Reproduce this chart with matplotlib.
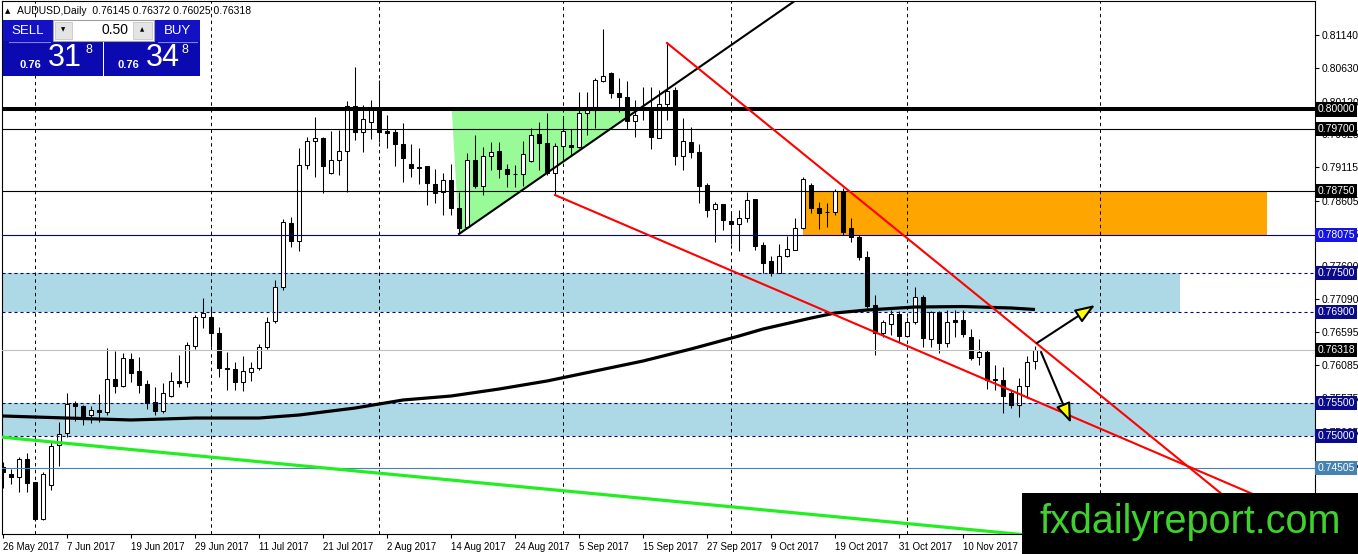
import matplotlib
matplotlib.use("Agg")
import matplotlib.pyplot as plt
import matplotlib.patches as mpatches
import matplotlib.transforms as mtransforms

# ---------------- data ----------------
DATE_LABELS = ["26 May 2017", "7 Jun 2017", "19 Jun 2017", "29 Jun 2017", "11 Jul 2017",
               "21 Jul 2017", "2 Aug 2017", "14 Aug 2017", "24 Aug 2017", "5 Sep 2017",
               "15 Sep 2017", "27 Sep 2017", "9 Oct 2017", "19 Oct 2017", "31 Oct 2017",
               "10 Nov 2017"]
DATE_LABEL_BARS = [0, 8, 16, 24, 32, 40, 48, 56, 64, 72, 80, 88, 96, 104, 112, 120]
MONTH_START_BARS = [4, 26, 47, 70, 91, 113, 137.1]

OPEN = [
    0.74525, 0.74418, 0.74372, 0.74647, 0.74295, 0.73729, 0.74249, 0.74862, 0.75046, 0.75505,
    0.75459, 0.75321, 0.75398, 0.75367, 0.75872, 0.75765, 0.76179, 0.75995, 0.75796, 0.75520,
    0.75382, 0.75612, 0.75842, 0.75826, 0.76378, 0.76822, 0.76822, 0.76577, 0.76041, 0.76025,
    0.75826, 0.75979, 0.76041, 0.76363, 0.76760, 0.77281, 0.78261, 0.77986, 0.79149, 0.79517,
    0.79563, 0.79027, 0.79226, 0.79364, 0.80052, 0.79655, 0.79808, 0.79992, 0.79670, 0.79655,
    0.79471, 0.79165, 0.79119, 0.79134, 0.78858, 0.78736, 0.78919, 0.78491, 0.78200, 0.79226,
    0.78828, 0.79287, 0.79364, 0.79088, 0.79012, 0.79012, 0.79210, 0.79624, 0.79486, 0.79027,
    0.79440, 0.79456, 0.79425, 0.79946, 0.79992, 0.80436, 0.80558, 0.80252, 0.80191, 0.79823,
    0.80037, 0.79976, 0.79563, 0.80083, 0.80298, 0.79287, 0.79502, 0.79348, 0.78843, 0.78476,
    0.78552, 0.78292, 0.78246, 0.78338, 0.78629, 0.77924, 0.77679, 0.77496, 0.77755, 0.77848,
    0.78185, 0.78843, 0.78491, 0.78430, 0.78430, 0.78751, 0.78185, 0.78047, 0.77740, 0.77005,
    0.76577, 0.76715, 0.76868, 0.76531, 0.76745, 0.77128, 0.76485, 0.76898, 0.76424, 0.76776,
    0.76776, 0.76516, 0.76209, 0.76286, 0.75872, 0.75857, 0.75658, 0.75474, 0.75765, 0.76145,
]
HIGH = [
    0.74601, 0.74494, 0.74678, 0.74739, 0.74295, 0.74448, 0.74923, 0.75214, 0.75658, 0.75536,
    0.75474, 0.75459, 0.75643, 0.76347, 0.76301, 0.76271, 0.76271, 0.76209, 0.75857, 0.75750,
    0.75811, 0.75979, 0.76240, 0.76439, 0.76852, 0.77113, 0.76960, 0.76669, 0.76286, 0.76133,
    0.76225, 0.76133, 0.76408, 0.76822, 0.77388, 0.78322, 0.78353, 0.79410, 0.79578, 0.79884,
    0.79578, 0.79670, 0.79685, 0.80129, 0.80650, 0.80068, 0.80145, 0.80451, 0.79915, 0.79701,
    0.79793, 0.79471, 0.79410, 0.79134, 0.79088, 0.79027, 0.79165, 0.78736, 0.79333, 0.79609,
    0.79425, 0.79502, 0.79502, 0.79165, 0.79149, 0.79517, 0.79716, 0.79808, 0.79946, 0.79486,
    0.79884, 0.79701, 0.80267, 0.80267, 0.80482, 0.81232, 0.80574, 0.80482, 0.80436, 0.80145,
    0.80344, 0.80344, 0.80298, 0.81018, 0.80344, 0.79869, 0.79731, 0.79471, 0.78874, 0.78583,
    0.78552, 0.78445, 0.78460, 0.78736, 0.78629, 0.77970, 0.77755, 0.77940, 0.78062, 0.78338,
    0.78966, 0.78874, 0.78583, 0.78567, 0.78782, 0.78797, 0.78338, 0.78077, 0.77832, 0.77159,
    0.76776, 0.76929, 0.76914, 0.76822, 0.77281, 0.77159, 0.76914, 0.76914, 0.76929, 0.76929,
    0.76929, 0.76638, 0.76485, 0.76317, 0.76087, 0.76056, 0.75704, 0.75888, 0.76225, 0.76372,
]
LOW = [
    0.74203, 0.74265, 0.74142, 0.74142, 0.73698, 0.73714, 0.74173, 0.74540, 0.74984, 0.75229,
    0.75168, 0.75199, 0.75214, 0.75321, 0.75658, 0.75750, 0.75826, 0.75658, 0.75413, 0.75321,
    0.75352, 0.75597, 0.75750, 0.75750, 0.76332, 0.76653, 0.76363, 0.75903, 0.75704, 0.75704,
    0.75689, 0.75842, 0.76010, 0.76332, 0.76730, 0.77235, 0.77894, 0.77832, 0.79088, 0.78966,
    0.78720, 0.79012, 0.78996, 0.78736, 0.79532, 0.79348, 0.79547, 0.79502, 0.79410, 0.79134,
    0.78889, 0.78966, 0.78858, 0.78537, 0.78567, 0.78383, 0.78383, 0.78108, 0.78185, 0.78797,
    0.78690, 0.79073, 0.78950, 0.78812, 0.78812, 0.78828, 0.79195, 0.79073, 0.78996, 0.78690,
    0.79226, 0.79302, 0.79410, 0.79609, 0.79716, 0.80420, 0.80175, 0.79961, 0.79701, 0.79578,
    0.79838, 0.79394, 0.79563, 0.79838, 0.79149, 0.79073, 0.79256, 0.78567, 0.78353, 0.77970,
    0.78154, 0.77940, 0.77832, 0.78276, 0.77848, 0.77496, 0.77450, 0.77496, 0.77740, 0.77848,
    0.78169, 0.78414, 0.78169, 0.78200, 0.78383, 0.78077, 0.77970, 0.77694, 0.76960, 0.76240,
    0.76516, 0.76546, 0.76439, 0.76516, 0.76715, 0.76363, 0.76363, 0.76271, 0.76363, 0.76516,
    0.76516, 0.76163, 0.76087, 0.75719, 0.75704, 0.75352, 0.75428, 0.75291, 0.75582, 0.76025,
]
CLOSE = [
    0.74448, 0.74372, 0.74647, 0.74280, 0.73729, 0.74418, 0.74846, 0.75030, 0.75490, 0.75459,
    0.75291, 0.75398, 0.75367, 0.75872, 0.75765, 0.76194, 0.75964, 0.75781, 0.75505, 0.75382,
    0.75658, 0.75842, 0.75811, 0.76393, 0.76822, 0.76883, 0.76577, 0.76041, 0.76025, 0.75826,
    0.75995, 0.76041, 0.76363, 0.76745, 0.77281, 0.78276, 0.77986, 0.79149, 0.79517, 0.79563,
    0.79134, 0.79226, 0.79364, 0.80052, 0.79655, 0.79854, 0.79992, 0.79655, 0.79639, 0.79471,
    0.79256, 0.79103, 0.79103, 0.78874, 0.78720, 0.78919, 0.78491, 0.78185, 0.79226, 0.78828,
    0.79287, 0.79348, 0.79088, 0.79012, 0.79012, 0.79318, 0.79609, 0.79486, 0.79027, 0.79440,
    0.79670, 0.79425, 0.79946, 0.79992, 0.80451, 0.80512, 0.80252, 0.80191, 0.79823, 0.79915,
    0.80007, 0.79578, 0.80083, 0.80282, 0.79287, 0.79517, 0.79348, 0.78828, 0.78460, 0.78552,
    0.78307, 0.78246, 0.78338, 0.78613, 0.77909, 0.77649, 0.77496, 0.77755, 0.77863, 0.78185,
    0.78935, 0.78491, 0.78414, 0.78430, 0.78751, 0.78123, 0.78047, 0.77740, 0.76990, 0.76577,
    0.76745, 0.76868, 0.76531, 0.76745, 0.77128, 0.76500, 0.76898, 0.76424, 0.76745, 0.76745,
    0.76562, 0.76194, 0.76286, 0.75857, 0.75857, 0.75612, 0.75474, 0.75765, 0.76133, 0.76318,
]

MA_BARS = [0, 8, 16, 24, 32, 37, 44, 50, 56, 62, 68, 74, 80, 86, 92, 95, 101, 104, 108,
           114, 120, 126, 129]
MA_VALUES = [0.75306, 0.75275, 0.75245, 0.75275, 0.75275, 0.75321, 0.75428, 0.75551,
             0.75612, 0.75719, 0.75842, 0.75995, 0.76148, 0.76332, 0.76531, 0.76638,
             0.76806, 0.76883, 0.76929, 0.76975, 0.76982, 0.76960, 0.76937]

Y_TICKS = [0.81140, 0.80630, 0.80120, 0.79625, 0.79115, 0.78605, 0.78095, 0.77600,
           0.77090, 0.76595, 0.76085, 0.75575, 0.75065, 0.74555, 0.74045]

# horizontal levels: price, label, line colour, line width, dashed, label background
LEVEL_PRICES = [0.80000, 0.79700, 0.78750, 0.78075, 0.77500, 0.76900, 0.76318, 0.75500, 0.75000, 0.74505]
LEVEL_LABELS = ["0.80000", "0.79700", "0.78750", "0.78075", "0.77500", "0.76900", "0.76318",
                "0.75500", "0.75000", "0.74505"]
LEVEL_COLORS = ["black", "black", "black", "#0000A0", "#000080", "#000080", "#C0C0C0",
                "#000080", "#000080", "#4682B4"]
LEVEL_WIDTHS = [2.9, 0.8, 0.8, 0.8, 0.8, 0.8, 0.8, 0.8, 0.8, 0.8]
LEVEL_DASHED = [False, False, False, False, True, True, False, True, True, False]
LEVEL_LABEL_BG = ["black", "black", "black", "#1414E6", "#0A0A8C", "#0A0A8C", "black",
                  "#0A0A8C", "#0A0A8C", "#4682B4"]

# zones (bar start, bar end, low price, high price)
ZONE_UPPER_BLUE = (-1, 147.1, 0.76900, 0.77500)
ZONE_LOWER_BLUE = (-1, 170, 0.75000, 0.75500)
ZONE_ORANGE = (100, 158, 0.78075, 0.78750)
GREEN_TRIANGLE = [(56.1, 0.80000), (57.0, 0.78093), (79.5, 0.80000)]

# trend lines (bar, price) endpoints
BLACK_TREND = [(57.0, 0.78093), (99.5, 0.81707)]
RED_UPPER = [(83.0, 0.81018), (157.0, 0.73648)]
RED_LOWER = [(69.0, 0.78690), (157.0, 0.74070)]
GREEN_LINE = [(-1.0, 0.74992), (136.0, 0.73390)]
ARROW_UP = [(129.25, 0.76424), (136.5, 0.77005)]
ARROW_DOWN = [(129.75, 0.76286), (133.5, 0.75199)]

TITLE = "AUDUSD,Daily  0.76145 0.76372 0.76025 0.76318"

# ---------------- figure ----------------
W, H = 1358, 554
fig = plt.figure(figsize=(W / 100, H / 100), dpi=100, facecolor="white")
ax = fig.add_axes([2 / W, 20 / H, 1313 / W, 533 / H])
ax.set_facecolor("white")
ax.set_xlim(-0.125, 164.0)
ax.set_ylim(0.73499, 0.81661)

FONT = "Liberation Sans"

# zones
for (x0, x1, y0, y1), col, z in [(ZONE_UPPER_BLUE, "#ADD8E6", 0.5),
                                  (ZONE_LOWER_BLUE, "#ADD8E6", 0.5),
                                  (ZONE_ORANGE, "#FFA500", 0.5)]:
    ax.add_patch(mpatches.Rectangle((x0, y0), x1 - x0, y1 - y0, facecolor=col,
                                    edgecolor="none", zorder=z))
ax.add_patch(mpatches.Polygon(GREEN_TRIANGLE, closed=True, facecolor="#98FB98",
                              edgecolor="none", zorder=0.6))

# month grid
for b in MONTH_START_BARS:
    ax.axvline(b, color="black", lw=0.7, ls=(0, (3.5, 3.5)), zorder=0.7)

# candles
n = len(OPEN)
for i in range(n):
    o, h, l, c = OPEN[i], HIGH[i], LOW[i], CLOSE[i]
    ax.plot([i, i], [l, h], color="black", lw=0.75, zorder=2, solid_capstyle="butt")
    bull = c > o
    lo, hi = min(o, c), max(o, c)
    ax.add_patch(mpatches.Rectangle((i - 0.27, lo), 0.54, max(hi - lo, 1e-6),
                                    facecolor="white" if bull else "black",
                                    edgecolor="black", lw=0.75, zorder=3))

# horizontal levels
blend = mtransforms.blended_transform_factory(ax.transAxes, ax.transData)
for p, lab, col, lw, dashed, bg in zip(LEVEL_PRICES, LEVEL_LABELS, LEVEL_COLORS,
                                        LEVEL_WIDTHS, LEVEL_DASHED, LEVEL_LABEL_BG):
    ax.axhline(p, color=col, lw=lw, ls=(0, (2.7, 2.7)) if dashed else "-", zorder=4)
    ax.text(1.0018, p, lab, transform=blend, ha="left", va="center", color="white",
            fontsize=7.5, family=FONT, clip_on=False, zorder=30,
            bbox=dict(boxstyle="square,pad=0.2", fc=bg, ec="none"))

# moving average
ax.plot(MA_BARS, MA_VALUES, color="black", lw=2.3, zorder=5, solid_capstyle="butt")

# trend lines
ax.plot(*zip(*BLACK_TREND), color="black", lw=1.5, zorder=5)
ax.plot(*zip(*RED_UPPER), color="#FF0000", lw=1.5, zorder=5)
ax.plot(*zip(*RED_LOWER), color="#FF0000", lw=1.5, zorder=5)
ax.plot(*zip(*GREEN_LINE), color="#22EE22", lw=2.3, zorder=5)

for (x0, y0), (x1, y1) in [ARROW_UP, ARROW_DOWN]:
    ax.annotate("", xy=(x1, y1), xytext=(x0, y0),
                arrowprops=dict(arrowstyle="-|>,head_length=1.2,head_width=0.45",
                                fc="yellow", ec="black", lw=1.5, mutation_scale=10,
                                shrinkA=0, shrinkB=0), zorder=6)

# axes styling
for s in ax.spines.values():
    s.set_color("black")
    s.set_linewidth(0.8)
ax.yaxis.tick_right()
ax.set_yticks(Y_TICKS)
ax.set_yticklabels([f"{v:.5f}" for v in Y_TICKS], fontsize=7.5, family=FONT)
ax.tick_params(axis="y", length=3, width=0.8, pad=2, colors="black")
ax.set_xticks(DATE_LABEL_BARS)
ax.set_xticklabels(DATE_LABELS, fontsize=7, family=FONT, ha="left")
ax.tick_params(axis="x", length=3, width=0.8, pad=3, colors="black")

# ---------------- overlay (panel, title, watermark) ----------------
ov = fig.add_axes([0, 0, 1, 1], zorder=10)
ov.set_xlim(0, W)
ov.set_ylim(H, 0)
ov.axis("off")
ov.patch.set_alpha(0)

ov.text(5, 11, "▲", fontsize=5, color="black", va="center", ha="left", family="DejaVu Sans")
ov.text(17, 11, TITLE, fontsize=7.5, color="black", va="center", ha="left", family=FONT)

BLUE = "#1212C4"
DARK = "#0A0AB0"
# sell
ov.add_patch(mpatches.Rectangle((3, 20), 50, 22, fc=BLUE, ec="none"))
ov.add_patch(mpatches.Rectangle((3, 41), 100, 35, fc=DARK, ec="none"))
ov.plot([9, 50], [41.5, 41.5], color="#7F7FFF", lw=0.8)
# buy
ov.add_patch(mpatches.Rectangle((155, 20), 45, 22, fc=BLUE, ec="none"))
ov.add_patch(mpatches.Rectangle((104, 41), 96, 35, fc=DARK, ec="none"))
ov.plot([158, 197], [41.5, 41.5], color="#7F7FFF", lw=0.8)
# lot box
ov.add_patch(mpatches.Rectangle((53, 20), 101, 21, fc="white", ec="#A0A0A0", lw=0.8))
ov.add_patch(mpatches.Rectangle((55, 22), 17, 17, fc="#E4E4E4", ec="#C8C8C8", lw=0.6))
ov.add_patch(mpatches.Rectangle((133, 22), 19, 17, fc="#E4E4E4", ec="#C8C8C8", lw=0.6))
ov.text(63.5, 30, "▼", fontsize=4, ha="center", va="center", family="DejaVu Sans")
ov.text(142.5, 30, "▲", fontsize=4, ha="center", va="center", family="DejaVu Sans")
ov.text(128, 30.5, "0.50", fontsize=10, ha="right", va="center", family=FONT)
ov.text(28, 30.5, "SELL", fontsize=9.5, color="white", ha="center", va="center", family=FONT)
ov.text(177, 30.5, "BUY", fontsize=9.5, color="white", ha="center", va="center", family=FONT)
for x_small, x_big, x_sup, big in [(20, 48, 86, "31"), (117, 146, 182, "34")]:
    ov.text(x_small, 65, "0.76", fontsize=8, fontweight="bold", color="white",
            ha="left", va="center", family=FONT)
    ov.text(x_big, 58, big, fontsize=22, color="white", ha="left", va="center", family=FONT)
    ov.text(x_sup, 50, "8", fontsize=9, color="white", ha="left", va="center", family=FONT)

# watermark
ov.add_patch(mpatches.Rectangle((1022, 493), W - 1022, H - 493, fc="black", ec="none"))
ov.text(1190, 522, "fxdailyreport.com", fontsize=28.5, color="#3ED22D",
        ha="center", va="center", family=FONT)

fig.savefig("out.png", dpi=100, facecolor="white")
